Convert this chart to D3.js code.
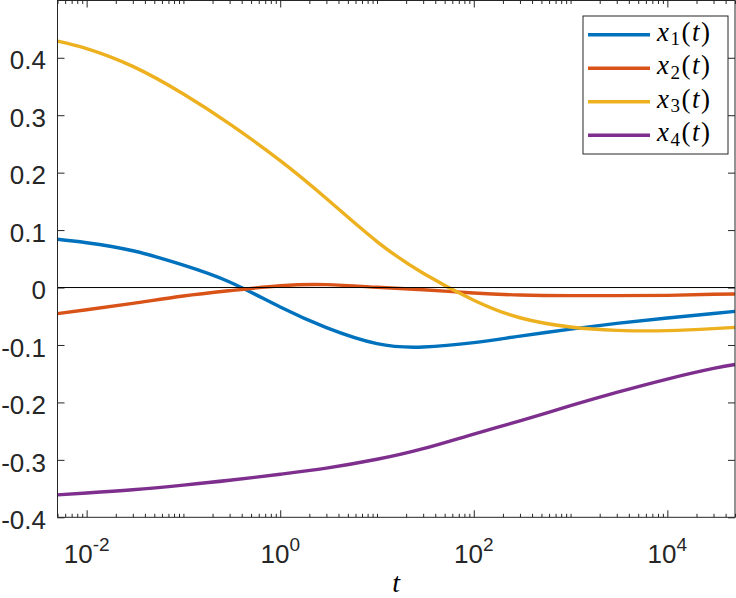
<!DOCTYPE html>
<html>
<head>
<meta charset="utf-8">
<script src="https://cdn.jsdelivr.net/npm/d3@7"></script>
<style>
  body { margin: 0; background: #fff; }
  svg { display: block; }
  .tick-label { font-family: "Liberation Sans", Arial, sans-serif; fill: #262626; }
  .math { font-family: "Liberation Serif", "Times New Roman", serif; fill: #000; }
</style>
</head>
<body>
<svg id="chart"></svg>
<script>
// sample times (log axis) and the four states
const tVals = [0.005, 0.01, 0.03, 0.1, 0.3, 1, 3, 10, 30, 100, 300, 1000, 3000, 10000, 30000, 50000];
const x1 = [0.084, 0.078, 0.064, 0.039, 0.0097, -0.034, -0.0698, -0.0977, -0.1036, -0.096, -0.0845, -0.0725, -0.0625, -0.053, -0.0452, -0.0415];
const x2 = [-0.0455, -0.0386, -0.0275, -0.0148, -0.0055, 0.003, 0.005, 0.0005, -0.0038, -0.0095, -0.013, -0.0141, -0.0141, -0.0136, -0.0118, -0.0113];
const x3 = [0.429, 0.416, 0.385, 0.337, 0.285, 0.221, 0.155, 0.08, 0.025, -0.022, -0.0526, -0.0688, -0.0745, -0.075, -0.0716, -0.0693];
const x4 = [-0.361, -0.3577, -0.352, -0.344, -0.3356, -0.325, -0.3144, -0.299, -0.2805, -0.255, -0.232, -0.2057, -0.1826, -0.1593, -0.1408, -0.134];

const seriesNames = ['1', '2', '3', '4'];
const colors = ['#0072BD', '#D95319', '#EDB120', '#7E2F8E'];
const xMajor = [0.01, 1, 100, 10000];
const xMajorExp = ['-2', '0', '2', '4'];
const yTicks = [-0.4, -0.3, -0.2, -0.1, 0, 0.1, 0.2, 0.3, 0.4];

const width = 736, height = 598;
const plotLeft = 57.5, plotRight = 735, plotTop = 0.5, plotBottom = 517.3;

const svg = d3.select('#chart')
    .attr('width', width)
    .attr('height', height);

const x = d3.scaleLog()
    .domain([0.005, 50000])
    .range([plotLeft, plotRight]);

const y = d3.scaleLinear()
    .domain([-0.4, 0.4997])
    .range([plotBottom, plotTop]);

// minor ticks: every j*10^k inside the domain that is not a major tick
const xMinor = [];
for (let k = -3; k <= 4; k++) {
    for (let j = 1; j <= 9; j++) {
        const v = j * Math.pow(10, k);
        if (v >= 0.005 && v <= 50000 && !xMajor.some(m => Math.abs(m - v) < 1e-9)) xMinor.push(v);
    }
}

// axes (ticks pointing inward, on all four sides)
const axisColor = '#262626';
const drawAxis = (axis, tx, ty) => {
    const g = svg.append('g')
        .attr('transform', `translate(${tx},${ty})`)
        .call(axis);
    g.select('.domain').remove();
    g.selectAll('line').attr('stroke', axisColor).attr('stroke-width', 1);
    return g;
};

drawAxis(d3.axisBottom(x).tickValues(xMajor).tickSize(-7).tickFormat(''), 0, plotBottom);
drawAxis(d3.axisBottom(x).tickValues(xMinor).tickSize(-3.5).tickFormat(''), 0, plotBottom);
drawAxis(d3.axisTop(x).tickValues(xMajor).tickSize(-7).tickFormat(''), 0, plotTop);
drawAxis(d3.axisTop(x).tickValues(xMinor).tickSize(-3.5).tickFormat(''), 0, plotTop);
drawAxis(d3.axisLeft(y).tickValues(yTicks).tickSize(-7).tickFormat(''), plotLeft, 0);
drawAxis(d3.axisRight(y).tickValues(yTicks).tickSize(-7).tickFormat(''), plotRight, 0);

// tick labels (plain hyphen for negatives, as in the original)
const yFmt = d => d === 0 ? '0' : d3.format('.1f')(d).replace('\u2212', '-');

svg.append('g')
    .selectAll('text')
    .data(yTicks)
    .enter().append('text')
    .attr('class', 'tick-label')
    .attr('x', plotLeft - 11.5)
    .attr('y', d => y(d))
    .attr('dy', '0.45em')
    .attr('text-anchor', 'end')
    .style('font-size', '26px')
    .text(yFmt);

const xl = svg.append('g')
    .selectAll('text')
    .data(xMajor)
    .enter().append('text')
    .attr('class', 'tick-label')
    .attr('x', d => x(d))
    .attr('y', 563.3)
    .attr('text-anchor', 'middle')
    .style('font-size', '26px');
xl.append('tspan').text('10');
xl.append('tspan')
    .attr('dy', -12.6)
    .style('font-size', '19px')
    .text((d, i) => xMajorExp[i]);

// x label
svg.append('text')
    .attr('class', 'math')
    .attr('x', (plotLeft + plotRight) / 2)
    .attr('y', 592)
    .attr('text-anchor', 'middle')
    .style('font-size', '28px')
    .style('font-style', 'italic')
    .text('t');

// curves
const line = d3.line()
    .x(d => x(d[0]))
    .y(d => y(d[1]))
    .curve(d3.curveNatural);

[x1, x2, x3, x4].forEach((vals, i) => {
    svg.append('path')
        .datum(tVals.map((t, k) => [t, vals[k]]))
        .attr('fill', 'none')
        .attr('stroke', colors[i])
        .attr('stroke-width', 3.4)
        .attr('d', line);
});

// zero line
svg.append('line')
    .attr('x1', plotLeft).attr('x2', plotRight)
    .attr('y1', y(0)).attr('y2', y(0))
    .attr('stroke', '#000')
    .attr('stroke-width', 1);

// box
svg.append('rect')
    .attr('x', plotLeft).attr('y', plotTop)
    .attr('width', plotRight - plotLeft).attr('height', plotBottom - plotTop)
    .attr('fill', 'none')
    .attr('stroke', axisColor)
    .attr('stroke-width', 1);

// legend
const legend = svg.append('g');
legend.append('rect')
    .attr('x', 583).attr('y', 16)
    .attr('width', 145).attr('height', 138)
    .attr('fill', '#fff')
    .attr('stroke', axisColor)
    .attr('stroke-width', 1);

const rows = legend.selectAll('g.row')
    .data(seriesNames)
    .enter().append('g')
    .attr('class', 'row')
    .attr('transform', (d, i) => `translate(0,${34.7 + i * 33.5})`);

rows.append('line')
    .attr('x1', 588).attr('x2', 650)
    .attr('stroke', (d, i) => colors[i])
    .attr('stroke-width', 3.4);

const lt = rows.append('text')
    .attr('class', 'math')
    .attr('x', 657)
    .attr('y', 6)
    .style('font-size', '27px')
    .style('letter-spacing', '1.5px');
lt.append('tspan').style('font-style', 'italic').text('x');
lt.append('tspan').attr('dy', 4.5).style('font-size', '19px').text(d => d);
lt.append('tspan').attr('dy', -4.5).text('(');
lt.append('tspan').style('font-style', 'italic').text('t');
lt.append('tspan').text(')');
</script>
</body>
</html>
